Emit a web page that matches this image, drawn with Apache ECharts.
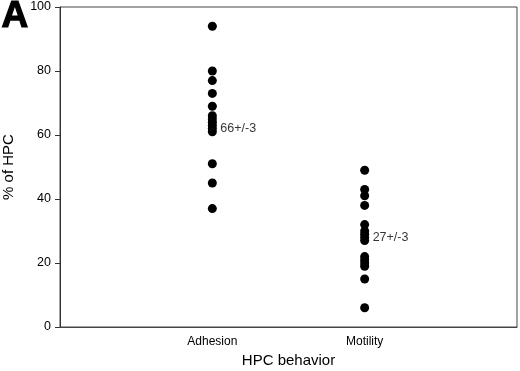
<!DOCTYPE html>
<html>
<head>
<meta charset="utf-8">
<script src="https://cdn.jsdelivr.net/npm/echarts@6/dist/echarts.min.js"></script>
<style>
html, body { margin: 0; padding: 0; background: #fff; }
#chart { width: 520px; height: 371px; }
</style>
</head>
<body>
<div id="chart"></div>
<script>
// categories on the x axis (positions 1 and 2)
var categories = ['Adhesion', 'Motility'];
// % of HPC per experiment
var adhesionValues = [94, 80, 77, 73, 69, 66, 65, 64, 63, 62, 61, 51, 45, 37];
var motilityValues = [49, 43, 41, 38, 32, 30, 29, 28, 27, 22, 21, 20, 19, 15, 6];
// mean +/- sem labels and where they sit
var annotTexts = ['66+/-3', '27+/-3'];
var annotY = [62, 28];
var yTicks = [0, 20, 40, 60, 80, 100];

var font = 'Liberation Sans';

function toPoints(pos, values) {
    return values.map(function (v) { return [pos, v]; });
}

var chart = echarts.init(document.getElementById('chart'));
chart.setOption({
    animation: false,
    backgroundColor: '#fff',
    graphic: [{
        type: 'text',
        left: 1,
        top: -2,
        style: { text: 'A', fontFamily: font, fontSize: 37, fontWeight: 900, fill: '#000', stroke: '#000', lineWidth: 1.2 }
    }],
    grid: {
        left: 60, right: 3, top: 7, bottom: 44,
        containLabel: false,
        outerBoundsMode: 'none',
        show: true, borderColor: '#444', borderWidth: 1
    },
    xAxis: {
        type: 'value',
        min: 0, max: 3, interval: 1,
        name: 'HPC behavior',
        nameLocation: 'middle',
        nameGap: 25,
        nameTextStyle: { fontFamily: font, fontSize: 15, color: '#000' },
        axisLine: { show: true, lineStyle: { color: '#444' } },
        axisTick: { show: false },
        splitLine: { show: false },
        axisLabel: {
            fontFamily: font, fontSize: 12, color: '#000', margin: 9,
            formatter: function (v) { return categories[v - 1] || ''; }
        }
    },
    yAxis: {
        type: 'value',
        min: yTicks[0], max: yTicks[yTicks.length - 1], interval: 20,
        name: '% of HPC',
        nameLocation: 'middle',
        nameGap: 44,
        nameTextStyle: { fontFamily: font, fontSize: 15, color: '#000' },
        axisLine: { show: true, lineStyle: { color: '#333' } },
        axisTick: { show: true, inside: false, length: 5, lineStyle: { color: '#333' } },
        splitLine: { show: false },
        axisLabel: { fontFamily: font, fontSize: 12.5, color: '#000', margin: 9 }
    },
    series: [
        {
            type: 'scatter',
            symbolSize: 9,
            itemStyle: { color: '#000', opacity: 1 },
            data: toPoints(1, adhesionValues)
        },
        {
            type: 'scatter',
            symbolSize: 9,
            itemStyle: { color: '#000', opacity: 1 },
            data: toPoints(2, motilityValues)
        },
        {
            type: 'scatter',
            symbolSize: 0,
            silent: true,
            label: {
                show: true, position: 'right', distance: 8,
                fontFamily: font, fontSize: 12.5, color: '#000',
                formatter: function (p) { return annotTexts[p.dataIndex]; }
            },
            data: [[1, annotY[0]], [2, annotY[1]]]
        }
    ]
});
</script>
</body>
</html>
